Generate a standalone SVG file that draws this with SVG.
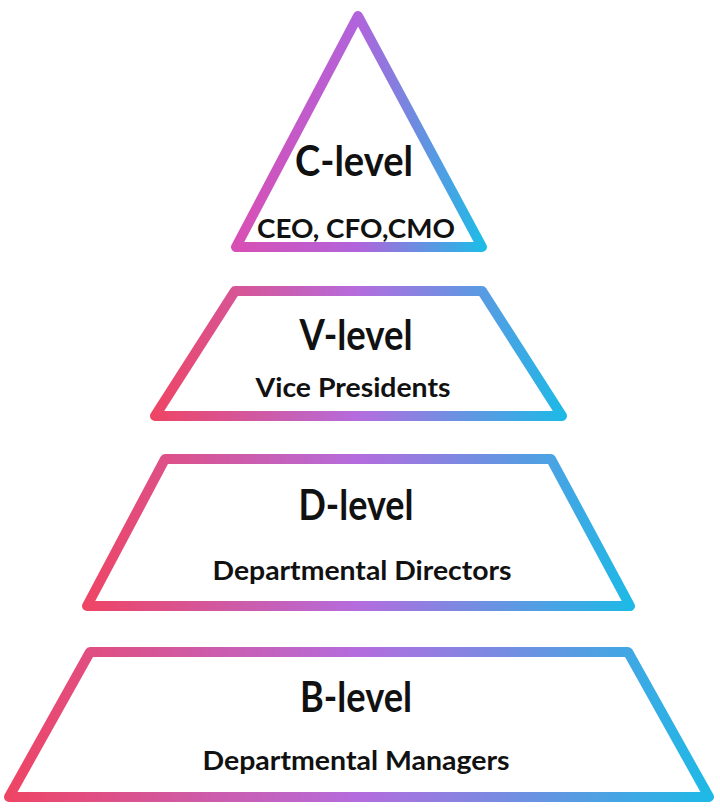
<svg xmlns="http://www.w3.org/2000/svg" width="720" height="811" viewBox="0 0 720 811">
<defs>
<linearGradient id="gTri" x1="0" y1="0" x2="1" y2="0">
<stop offset="0" stop-color="#d84fb4"/>
<stop offset="0.5" stop-color="#b064dc"/>
<stop offset="1" stop-color="#1fbbe6"/>
</linearGradient>
<linearGradient id="gTrap" x1="0" y1="0" x2="1" y2="0">
<stop offset="0" stop-color="#ee4565"/>
<stop offset="0.5" stop-color="#b46cde"/>
<stop offset="1" stop-color="#1eb9e6"/>
</linearGradient>
<style>
.tri{fill:#ffffff;stroke:url(#gTri);stroke-width:10;stroke-linejoin:round}
.trap{fill:#ffffff;stroke:url(#gTrap);stroke-width:10;stroke-linejoin:round}
.h{font-family:Lato,"Open Sans",sans-serif;font-weight:700;font-size:42px;fill:#111;text-anchor:middle}
.s{font-family:Lato,"Open Sans",sans-serif;font-weight:700;font-size:27px;fill:#111;text-anchor:middle}
</style>
</defs>
<rect width="720" height="811" fill="#ffffff"/>
<g id="c-level">
<polygon class="tri" points="358,16 236,247 482,247"/>
<text class="h" x="354" y="176" textLength="118" lengthAdjust="spacingAndGlyphs">C-level</text>
<text class="s" x="356" y="238" textLength="198" lengthAdjust="spacingAndGlyphs">CEO, CFO,CMO</text>
</g>
<g id="v-level">
<polygon class="trap" points="235,291 482,291 562,416 155,416"/>
<text class="h" x="356" y="350" textLength="113" lengthAdjust="spacingAndGlyphs">V-level</text>
<text class="s" x="353" y="397" textLength="195" lengthAdjust="spacingAndGlyphs">Vice Presidents</text>
</g>
<g id="d-level">
<polygon class="trap" points="165,459 551,459 630,606 87,606"/>
<text class="h" x="356" y="520" textLength="115" lengthAdjust="spacingAndGlyphs">D-level</text>
<text class="s" x="362" y="580" textLength="299" lengthAdjust="spacingAndGlyphs">Departmental Directors</text>
</g>
<g id="b-level">
<polygon class="trap" points="90,652 628,652 709,797 9,797"/>
<text class="h" x="356" y="712" textLength="112" lengthAdjust="spacingAndGlyphs">B-level</text>
<text class="s" x="356" y="770" textLength="307" lengthAdjust="spacingAndGlyphs">Departmental Managers</text>
</g>
<g id="connectors"/>
</svg>
